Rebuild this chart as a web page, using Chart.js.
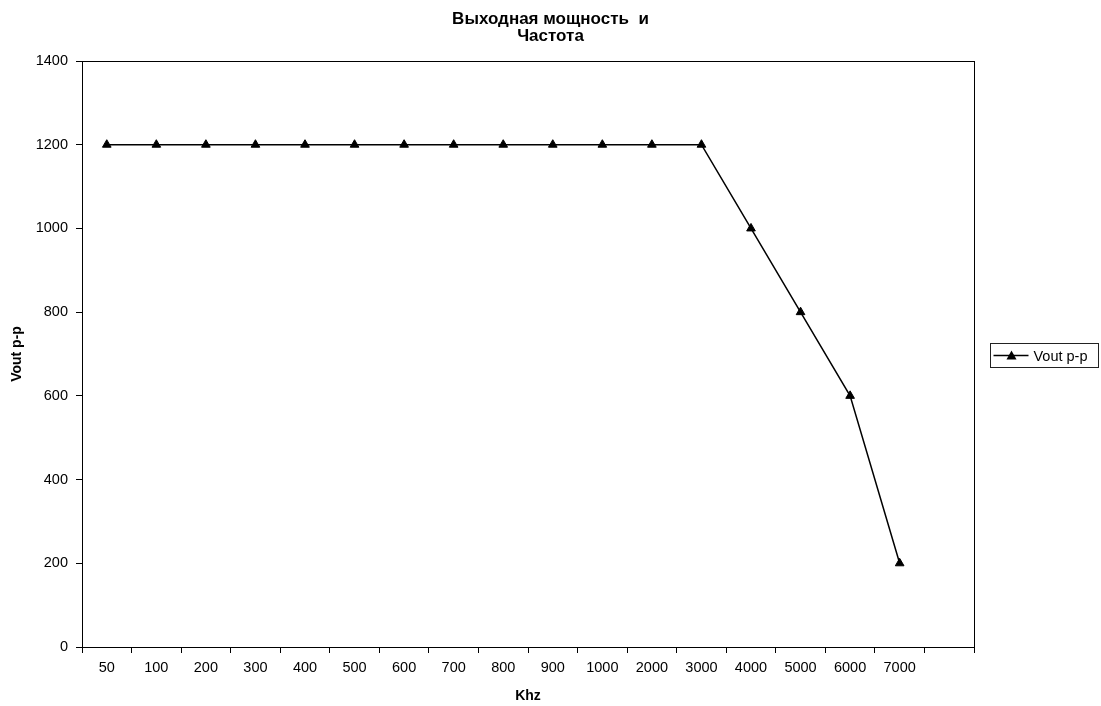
<!DOCTYPE html>
<html>
<head>
<meta charset="utf-8">
<script src="https://cdn.jsdelivr.net/npm/chart.js@4/dist/chart.umd.min.js"></script>
<style>
  html, body { margin: 0; padding: 0; background: #fff; }
  #wrap { width: 1101px; height: 706px; position: relative; }
</style>
</head>
<body>
<div id="wrap"><canvas id="myChart"></canvas></div>
<script>
// categories (last slot is empty in the original)
var freqLabels = ['50','100','200','300','400','500','600','700','800','900','1000','2000','3000','4000','5000','6000','7000',''];
var voutValues = [1200,1200,1200,1200,1200,1200,1200,1200,1200,1200,1200,1200,1200,1000,800,600,200,null];
var seriesName = 'Vout p-p';
var chartTitle = ['Выходная мощность  и', 'Частота'];

var FONT = 'Arial, "Liberation Sans", sans-serif';

// frame around plot area + the old style legend box
var framePlugin = {
  id: 'frame',
  afterDraw: function(chart) {
    var ctx = chart.ctx, a = chart.chartArea;
    ctx.save();
    ctx.strokeStyle = '#000';
    ctx.lineWidth = 1;
    ctx.strokeRect(Math.round(a.left) + 0.5, Math.round(a.top) + 0.5, Math.round(a.right - a.left), Math.round(a.bottom - a.top));

    // legend
    var midY = Math.round((a.top + a.bottom) / 2) + 0.5;
    var bx = Math.round(a.right) + 16.5;
    ctx.strokeStyle = '#222';
    ctx.strokeRect(bx, midY - 11, 108, 24);
    ctx.strokeStyle = '#000';
    ctx.beginPath();
    ctx.lineWidth = 1.5;
    ctx.moveTo(bx + 3, midY + 1);
    ctx.lineTo(bx + 38, midY + 1);
    ctx.stroke();
    ctx.fillStyle = '#000';
    ctx.beginPath();
    var tx = bx + 21;
    ctx.moveTo(tx, midY - 4);
    ctx.lineTo(tx + 5, midY + 5);
    ctx.lineTo(tx - 5, midY + 5);
    ctx.closePath();
    ctx.fill();
    ctx.font = '14.5px ' + FONT;
    ctx.textBaseline = 'middle';
    ctx.fillText(seriesName, bx + 43, midY + 2);
    ctx.restore();
  }
};

var ctx = document.getElementById('myChart').getContext('2d');
var myChart = new Chart(ctx, {
  type: 'line',
  data: {
    labels: freqLabels,
    datasets: [{
      label: seriesName,
      data: voutValues,
      borderColor: '#000',
      backgroundColor: '#000',
      borderWidth: 1.5,
      tension: 0,
      pointStyle: 'triangle',
      pointRadius: 5,
      pointBorderWidth: 1
    }]
  },
  options: {
    responsive: true,
    maintainAspectRatio: false,
    animation: false,
    layout: { padding: 0 },
    plugins: {
      legend: { display: false },
      tooltip: { enabled: false },
      title: {
        display: true,
        text: chartTitle,
        color: '#000',
        font: { family: FONT, size: 17, weight: 'bold', lineHeight: 1.0 },
        padding: { top: 11, bottom: 16 }
      }
    },
    scales: {
      x: {
        offset: true,
        grid: { offset: true, drawOnChartArea: false, drawTicks: true, tickLength: 6, color: '#000' },
        border: { color: '#000' },
        ticks: { color: '#000', font: { family: FONT, size: 14.5 }, padding: 6, maxRotation: 0, autoSkip: false },
        title: { display: true, text: 'Khz', color: '#000', font: { family: FONT, size: 14, weight: 'bold' }, padding: { top: 4, bottom: 1 } },
        afterFit: function(s) { s.height = 59; }
      },
      y: {
        min: 0,
        max: 1400,
        ticks: {
          stepSize: 200, color: '#000', font: { family: FONT, size: 14.5 }, padding: 8,
          callback: function(v) { return String(v); }
        },
        grid: { drawOnChartArea: false, drawTicks: true, tickLength: 6, color: '#000' },
        border: { color: '#000' },
        title: { display: true, text: 'Vout p-p', color: '#000', font: { family: FONT, size: 14, weight: 'bold' }, padding: { top: 9, bottom: 0 } },
        afterFit: function(s) { s.width = 82; }
      },
      // empty right-hand column that holds the legend box
      side: {
        type: 'linear',
        position: 'right',
        display: true,
        grid: { display: false },
        border: { display: false },
        ticks: { display: false },
        afterFit: function(s) { s.width = 127; }
      }
    }
  },
  plugins: [framePlugin]
});
</script>
</body>
</html>
